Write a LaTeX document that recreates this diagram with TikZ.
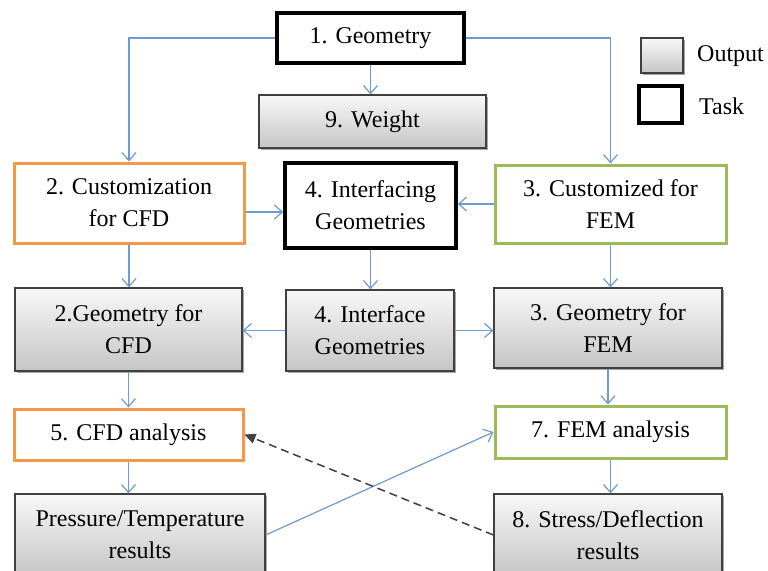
\documentclass[tikz,border=0pt]{standalone}
\usepackage{fontspec}
\setmainfont{Liberation Serif}
\usetikzlibrary{arrows.meta,shadows}
\definecolor{arrblue}{RGB}{112,155,210}
\definecolor{cfdorange}{RGB}{247,150,70}
\definecolor{femgreen}{RGB}{155,187,89}
\begin{document}
\begin{tikzpicture}[x=1pt,y=-1pt,
  every node/.style={font=\fontsize{24}{32}\selectfont, align=center, inner sep=0pt},
  taskbox/.style={draw=black, line width=3.5pt, fill=white},
  outbox/.style={draw=black!75, line width=1.2pt, top color=gray!6, bottom color=gray!45,
    drop shadow={shadow xshift=1.5pt, shadow yshift=-1.5pt, opacity=0.35, fill=black}},
  cfdbox/.style={draw=cfdorange, line width=3pt, fill=white},
  fembox/.style={draw=femgreen, line width=3pt, fill=white},
  arr/.style={draw=arrblue, line width=1.2pt, -{Straight Barb[length=8pt,width=14pt,line width=1.2pt]}},
  darr/.style={draw=black!75, line width=1.5pt, dash pattern=on 8pt off 5pt, -{Triangle[length=11pt,width=10pt]}}]
\useasboundingbox[fill=white] (0,0) rectangle (768,570);

% nodes
\node[taskbox, minimum width=187, minimum height=50] (n1) at (370.5,38) {1. Geometry};
\node[outbox, minimum width=227, minimum height=53] (n9) at (372.5,121.5) {9. Weight};
\node[cfdbox, minimum width=230, minimum height=80] (n2) at (129,203) {2. Customization\\for CFD};
\node[taskbox, minimum width=171, minimum height=85] (n4) at (370.5,205.5) {4. Interfacing\\Geometries};
\node[fembox, minimum width=231, minimum height=78] (n3) at (610.5,204) {3. Customized for\\FEM};
\node[outbox, minimum width=227, minimum height=83] (g2) at (128.5,329.5) {2.Geometry for\\CFD};
\node[outbox, minimum width=168, minimum height=81] (g4) at (370,330.5) {4. Interface\\Geometries};
\node[outbox, minimum width=228, minimum height=80] (g3) at (608,328) {3. Geometry for\\FEM};
\node[cfdbox, minimum width=229, minimum height=51] (n5) at (128.5,434.5) {5. CFD analysis};
\node[fembox, minimum width=231, minimum height=52] (n7) at (610.5,432) {7. FEM analysis};
\node[outbox, minimum width=250, minimum height=82] (p) at (140,535) {Pressure/Temperature\\results};
\node[outbox, minimum width=228, minimum height=82] (n8) at (608,535) {8. Stress/Deflection\\results};

% legend
\node[outbox, minimum width=42, minimum height=35] (lo) at (662,55.5) {};
\node[taskbox, minimum width=43, minimum height=37] (lt) at (660.5,104.5) {};
\node[anchor=west] (lot) at (697,56) {Output};
\node[anchor=west] (ltt) at (699,106) {Task};

% connectors
\draw[arr] (n1.west) -| (n2.north);
\draw[arr] (n1.east) -| (n3.north);
\draw[arr] (n1.south) -- (n1.south |- n9.north);
\draw[arr] ([yshift=-9pt]n2.east) -- ([yshift=-9pt]n2.east -| n4.west);
\draw[arr] (n3.west) -- (n3.west -| n4.east);
\draw[arr] (n2.south) -- (n2.south |- g2.north);
\draw[arr] (n4.south) -- (n4.south |- g4.north);
\draw[arr] (n3.south) -- (n3.south |- g3.north);
\draw[arr] (g4.west) -- (g4.west -| g2.east);
\draw[arr] (g4.east) -- (g4.east -| g3.west);
\draw[arr] (g2.south) -- (g2.south |- n5.north);
\draw[arr] (g3.south) -- (g3.south |- n7.north);
\draw[arr] (n5.south) -- (n5.south |- p.north);
\draw[arr] (n7.south) -- (n7.south |- n8.north);
\draw[arr] (p.east) -- (n7.west);
\draw[darr] (n8.west) -- (n5.east);
\end{tikzpicture}
\end{document}
